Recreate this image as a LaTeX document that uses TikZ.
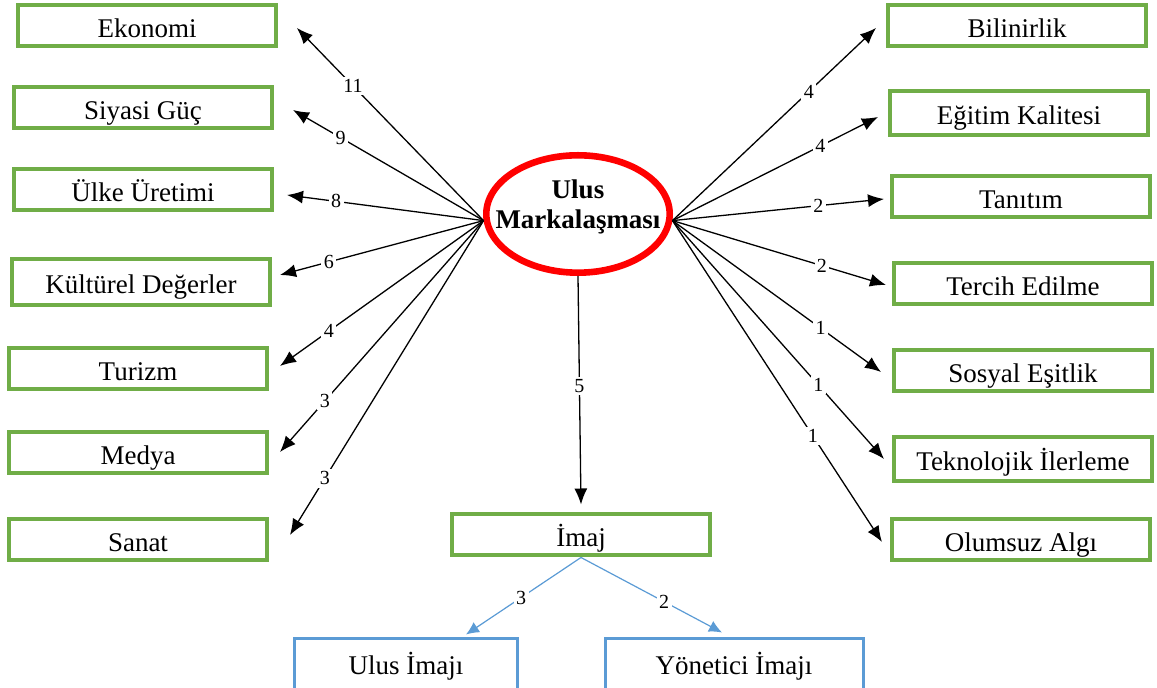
\documentclass[tikz,border=0pt]{standalone}
\usepackage{fontspec}
\setmainfont{Liberation Serif}
\usetikzlibrary{arrows.meta, shapes.geometric}
\definecolor{kutuyesil}{RGB}{112,173,71}
\definecolor{kutumavi}{RGB}{91,155,213}
\definecolor{halkakirmizi}{RGB}{255,0,0}
\tikzset{>={Latex[length=8pt,width=6.5pt]}}

\begin{document}
\begin{tikzpicture}[x=0.5pt,y=-0.5pt,
		konu/.style={draw=kutuyesil, line width=2pt, minimum width=129pt, minimum height=20.5pt, inner sep=0pt, text height=11.5pt, text depth=0pt, font=\fontsize{13.5}{15}\selectfont},
		altkonu/.style={draw=kutumavi, line width=1.5pt, minimum height=26pt, inner sep=0pt, text height=10pt, text depth=0pt, font=\fontsize{13.5}{15}\selectfont},
		sayi/.style={fill=white, inner sep=1.2pt, font=\fontsize{10}{11}\selectfont},
		ok/.style={->, line width=0.65pt},
		maviok/.style={-{Latex[length=6.5pt,width=6pt]}, draw=kutumavi, line width=0.6pt}]
		\clip (0,0) rectangle (1157,688);
		% Centre
		\node[ellipse, draw=halkakirmizi, line width=3.3pt, minimum width=91.7pt, minimum height=58.7pt, inner sep=0pt] (ulus) at (578,214) {};
		\node[align=center, font=\bfseries\fontsize{13.5}{15}\selectfont] (ulusyazi) at (578,207) {Ulus\\Markalaşması};
		% Left column
		\node[konu] (ekonomi) at (147,26) {Ekonomi};
		\node[konu] (siyasi) at (143,108) {Siyasi Güç};
		\node[konu] (uretim) at (143,190) {Ülke Üretimi};
		\node[konu, minimum height=23pt] (kultur) at (141,282) {Kültürel Değerler};
		\node[konu] (turizm) at (138,369) {Turizm};
		\node[konu] (medya) at (138,453) {Medya};
		\node[konu] (sanat) at (138,540) {Sanat};
		% Right column
		\node[konu] (bilinirlik) at (1017,26) {Bilinirlik};
		\node[konu, minimum height=22pt] (egitim) at (1019,113) {Eğitim Kalitesi};
		\node[konu] (tanitim) at (1021,197) {Tanıtım};
		\node[konu] (tercih) at (1023,284) {Tercih Edilme};
		\node[konu] (esitlik) at (1023,371) {Sosyal Eşitlik};
		\node[konu, minimum height=22pt] (teknoloji) at (1023,459) {Teknolojik İlerleme};
		\node[konu] (olumsuz) at (1021,540) {Olumsuz Algı};
		% Image
		\node[konu] (imaj) at (581,535) {İmaj};
		\node[altkonu, minimum width=111.5pt] (ulusimaj) at (406,665) {Ulus İmajı};
		\node[altkonu, minimum width=129pt] (yonetici) at (734,665) {Yönetici İmajı};
		% Left arrows
		\draw[ok] (ulus.184) -- ([shift={(9.5pt,-1pt)}]ekonomi.east) node[sayi,pos=0.70]{11};
		\draw[ok] (ulus.184) -- ([shift={(9.5pt,-1pt)}]siyasi.east) node[sayi,pos=0.75]{9};
		\draw[ok] (ulus.184) -- ([shift={(6.5pt,-2.5pt)}]uretim.east) node[sayi,pos=0.75]{8};
		\draw[ok] (ulus.184) -- ([shift={(4pt,3.5pt)}]kultur.east) node[sayi,pos=0.76]{6};
		\draw[ok] (ulus.184) -- ([shift={(5.5pt,1.5pt)}]turizm.east) node[sayi,pos=0.76]{4};
		\draw[ok] (ulus.184) -- ([shift={(5.5pt,0.5pt)}]medya.east) node[sayi,pos=0.78]{3};
		\draw[ok] (ulus.184) -- ([shift={(10.5pt,2.5pt)}]sanat.east) node[sayi,pos=0.82]{3};
		% Right arrows
		\draw[ok] (ulus.356) -- ([shift={(-5pt,-1pt)}]bilinirlik.west) node[sayi,pos=0.67]{4};
		\draw[ok] (ulus.356) -- ([shift={(-5pt,-2pt)}]egitim.west) node[sayi,pos=0.72]{4};
		\draw[ok] (ulus.356) -- ([shift={(-3pt,-1pt)}]tanitim.west) node[sayi,pos=0.69]{2};
		\draw[ok] (ulus.356) -- ([shift={(-3pt,-0.5pt)}]tercih.west) node[sayi,pos=0.70]{2};
		\draw[ok] (ulus.356) -- ([shift={(-5.5pt,-0.5pt)}]esitlik.west) node[sayi,pos=0.71]{1};
		\draw[ok] (ulus.356) -- ([shift={(-4pt,0pt)}]teknoloji.west) node[sayi,pos=0.69]{1};
		\draw[ok] (ulus.356) -- ([shift={(-4pt,-1pt)}]olumsuz.west) node[sayi,pos=0.67]{1};
		% Down
		\draw[ok] (ulus.south) -- ([yshift=4pt]imaj.north) node[sayi,pos=0.48]{5};
		\draw[maviok] (imaj.south) -- ([shift={(30pt,1.5pt)}]ulusimaj.north) node[sayi,pos=0.52]{3};
		\draw[maviok] (imaj.south) -- ([shift={(-6pt,2.5pt)}]yonetici.north) node[sayi,pos=0.59]{2};
	\end{tikzpicture}
\end{document}
